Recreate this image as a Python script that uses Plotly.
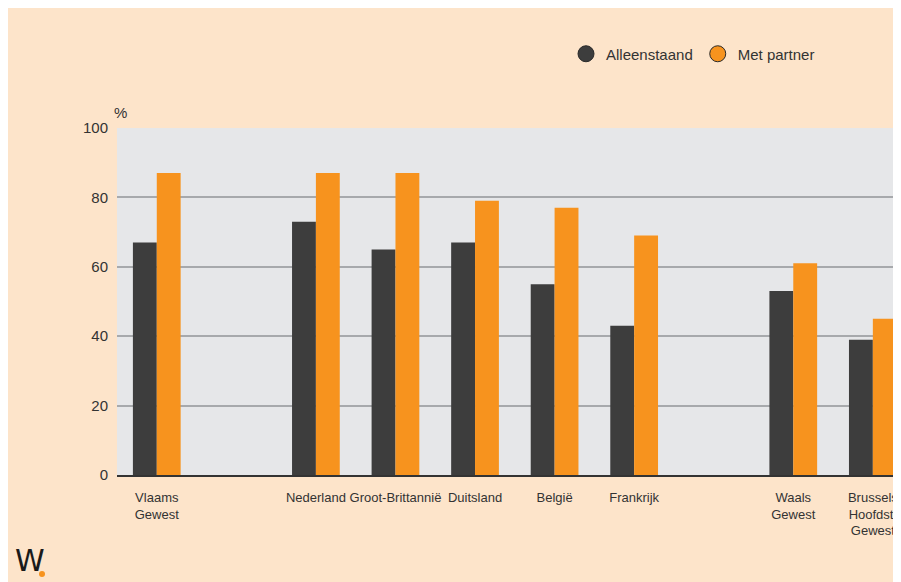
import plotly.graph_objects as go

categories = ["Vlaams<br>Gewest", "Nederland", "Groot-Brittannië", "Duitsland",
              "België", "Frankrijk", "Waals<br>Gewest", "Brussels<br>Hoofdst.<br>Gewest"]
alleenstaand = [67, 73, 65, 67, 55, 43, 53, 39]
met_partner = [87, 87, 87, 79, 77, 69, 61, 45]
series_names = ["Alleenstaand", "Met partner"]
y_ticks = [0, 20, 40, 60, 80, 100]

# axis order with blank spacer slots
axis_order = [categories[0], " "] + categories[1:6] + ["  "] + categories[6:]

DARK = "#3d3d3d"
ORANGE = "#f7931e"
PEACH = "#fde4ca"
FONT = "Liberation Sans, Arial, sans-serif"
TXT = "#333333"

fig = go.Figure()
fig.add_trace(go.Bar(x=categories, y=alleenstaand, name=series_names[0],
                     marker=dict(color=DARK, line=dict(width=0)), showlegend=False))
fig.add_trace(go.Bar(x=categories, y=met_partner, name=series_names[1],
                     marker=dict(color=ORANGE, line=dict(width=0)), showlegend=False))
# legend entries as circles
for name, col in zip(series_names, [DARK, ORANGE]):
    fig.add_trace(go.Scatter(x=[None], y=[None], mode="markers", name=name,
                             marker=dict(symbol="circle", size=20, color=col,
                                         line=dict(color="#2a2a2a", width=1))))

W, H = 893, 574
L, R, T, B = 109, 0, 120, 107
pw, ph = W - L - R, H - T - B


def px(x):
    return (x - L) / pw


def py(y):
    return 1 - (y - T) / ph


fig.update_layout(
    width=W, height=H,
    margin=dict(l=L, r=R, t=T, b=B, pad=0, autoexpand=False),
    paper_bgcolor=PEACH,
    plot_bgcolor="#e6e7e9",
    barmode="group", bargap=0.4, bargroupgap=0,
    font=dict(family=FONT, color=TXT, size=13),
    showlegend=True,
    legend=dict(orientation="h", x=px(558), y=py(46),
                xanchor="left", yanchor="middle",
                font=dict(family=FONT, size=15, color=TXT),
                bgcolor="rgba(0,0,0,0)", itemwidth=30, traceorder="normal"),
    xaxis=dict(type="category", categoryorder="array", categoryarray=axis_order,
               range=[-0.5, 9.354], showgrid=False, showline=True, linecolor="#333333",
               linewidth=2, ticks="", tickangle=0, automargin=False,
               tickfont=dict(family=FONT, size=13, color=TXT),
               ticklabelstandoff=9, fixedrange=True),
    yaxis=dict(range=[0, 100], tickvals=y_ticks, showgrid=True, gridcolor="#a7a9ac",
               gridwidth=2, zeroline=False, showline=False, ticks="", automargin=False,
               tickfont=dict(family=FONT, size=15, color=TXT),
               ticklabelstandoff=8, fixedrange=True),
    shapes=[
        dict(type="circle", xref="paper", yref="paper",
             x0=px(31), x1=px(37), y0=py(563), y1=py(569),
             fillcolor=ORANGE, line=dict(width=0)),
    ],
    annotations=[
        dict(text="%", xref="paper", yref="paper", x=px(104), y=py(105),
             xanchor="left", yanchor="middle", showarrow=False,
             font=dict(family=FONT, size=15, color=TXT)),
        dict(text="W", xref="paper", yref="paper", x=px(5), y=py(552),
             xanchor="left", yanchor="middle", showarrow=False,
             font=dict(family="DejaVu Sans, sans-serif", size=30, color="#1a1a1a")),
    ],
)

fig.write_html("out.html")
